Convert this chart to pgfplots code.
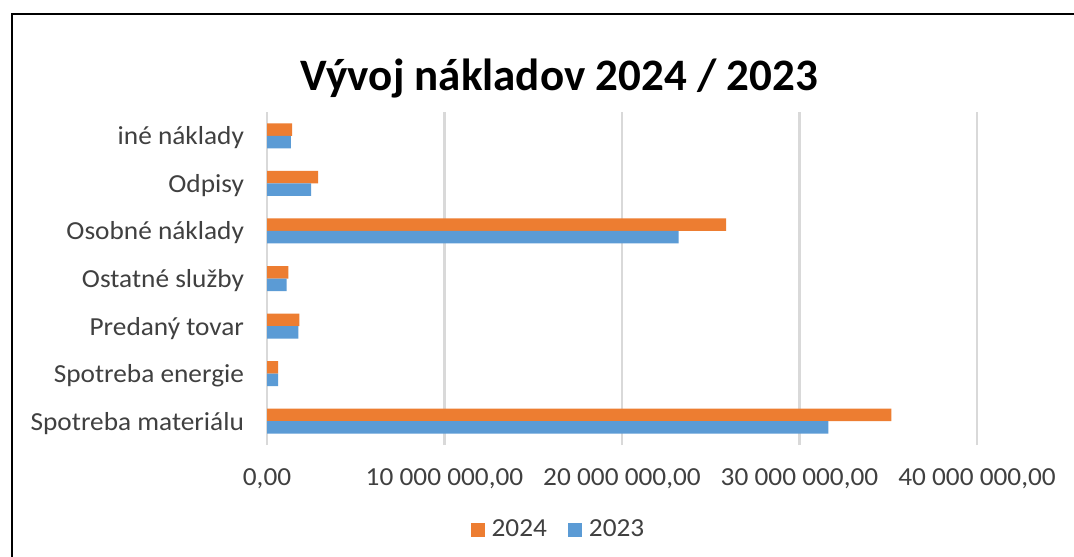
\documentclass[border=0pt]{standalone}
\usepackage{pgfplots}
\pgfplotsset{compat=1.18}
\usepackage{fontspec}
\setmainfont{Carlito}
\newfontfamily\lbl{Carlito}[FakeStretch=1.05]
\definecolor{orng}{HTML}{ED7D31}
\definecolor{blu}{HTML}{5B9BD5}
\definecolor{txt}{HTML}{404040}
\definecolor{grd}{HTML}{D9D9D9}
\begin{document}
\begin{tikzpicture}
\useasboundingbox (0,0) rectangle (537pt,278pt);
\fill[white] (0,0) rectangle (537pt,278pt);
\draw[black, line width=1.1pt] (6pt,-2pt) -- (6pt,271pt) -- (540pt,271pt);
\begin{axis}[
  at={(133.5pt,55.5pt)}, anchor=south west,
  scale only axis, width=355pt, height=166.5pt,
  xmin=0, xmax=40000000, ymin=-0.5, ymax=6.5,
  axis line style={draw=none},
  xmajorgrids, grid style={grd, line width=1.4pt},
  major tick length=0pt,
  scaled x ticks=false,
  xtick={0,10000000,20000000,30000000,40000000},
  xticklabels={0{,}00,10~000~000{,}00,20~000~000{,}00,30~000~000{,}00,40~000~000{,}00},
  ytick={0,1,2,3,4,5,6},
  yticklabels={Spotreba materiálu,Spotreba energie,Predaný tovar,Ostatné služby,Osobné náklady,Odpisy,iné náklady},
  tick label style={font=\lbl\fontsize{13}{15}\selectfont, text=txt},
  xticklabel style={yshift=-8.5pt},
  yticklabel style={xshift=-8pt, yshift=-1pt},
  xbar, bar width=6.25pt,
  legend style={at={(0.414,-0.255)}, anchor=center, draw=none, fill=none,
    legend columns=2, font=\lbl\fontsize{13}{15}\selectfont, text=txt,
    /tikz/every even column/.append style={column sep=7pt},
    nodes={inner ysep=2pt, inner xsep=3.5pt}},
  legend image code/.code={\fill[#1,draw=none] (0pt,-3.5pt) rectangle (7pt,3.5pt);},
]
\addplot[fill=orng, draw=none, bar shift=3.125pt] coordinates {
  (35180000,0) (620000,1) (1830000,2) (1210000,3) (25870000,4) (2880000,5) (1410000,6)};
\addlegendentry{2024}
\addplot[fill=blu, draw=none, bar shift=-3.125pt] coordinates {
  (31630000,0) (630000,1) (1770000,2) (1100000,3) (23190000,4) (2490000,5) (1340000,6)};
\addlegendentry{2023}
\end{axis}
\node[anchor=base, font=\bfseries\fontsize{22.5}{26}\selectfont] at (279.5pt,232.6pt) {Vývoj nákladov 2024 / 2023};
\end{tikzpicture}
\end{document}
